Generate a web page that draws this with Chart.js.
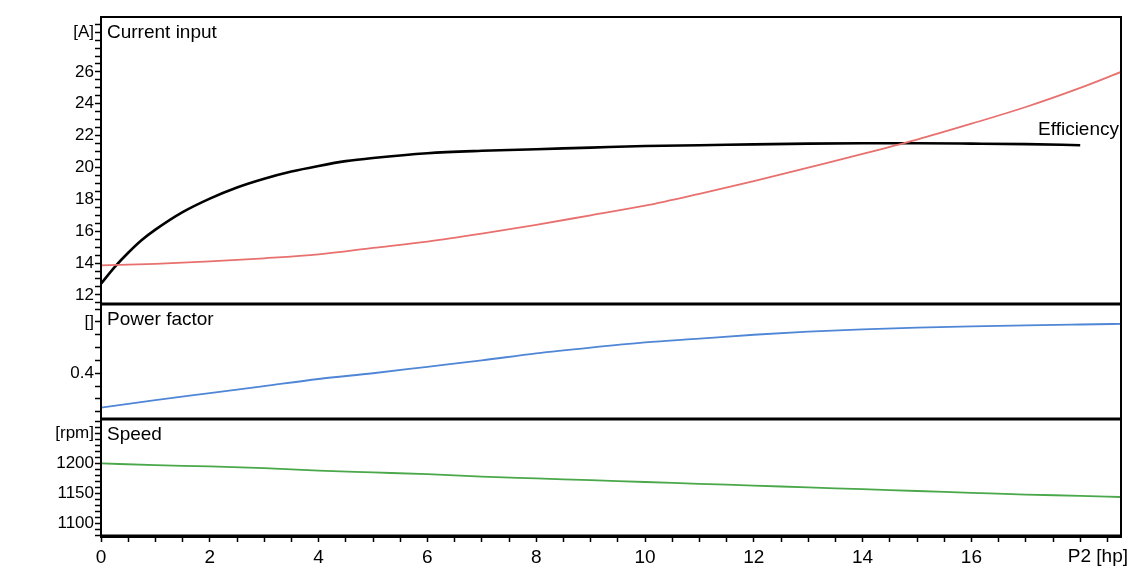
<!DOCTYPE html>
<html>
<head>
<meta charset="utf-8">
<script src="https://cdn.jsdelivr.net/npm/chart.js@4.4.1/dist/chart.umd.min.js"></script>
<style>
  html, body { margin: 0; padding: 0; background: #fff; }
  #wrap { width: 1129px; height: 576px; }
</style>
</head>
<body>
<div id="wrap"><canvas id="mycanvas"></canvas></div>
<script>
// P2 [hp] values where current, power factor and speed were read
var powerHp = [0, 1, 2, 3, 4, 5, 6, 7, 8, 9, 10, 11, 12, 13, 14, 15, 16, 17, 18, 18.75];
var currentA = [13.85, 13.95, 14.1, 14.3, 14.55, 14.95, 15.35, 15.85, 16.4, 17.0, 17.6, 18.35, 19.15, 20.0, 20.85, 21.75, 22.75, 23.8, 25.0, 26.0];
var powerFactor = [0.132, 0.19, 0.245, 0.30, 0.355, 0.40, 0.45, 0.50, 0.555, 0.60, 0.64, 0.67, 0.70, 0.725, 0.742, 0.755, 0.765, 0.773, 0.78, 0.785];
var speedRpm = [1200, 1197, 1195, 1192, 1188, 1185, 1182, 1178, 1175, 1172, 1169, 1166, 1163, 1160, 1157, 1154, 1151, 1148, 1146, 1144];

// efficiency curve (drawn on the current scale)
var effHp = [0, 0.25, 0.5, 0.75, 1, 1.5, 2, 2.5, 3, 3.5, 4, 4.5, 5, 6, 7, 8, 9, 10, 11, 12, 13, 14, 15, 16, 17, 18];
var efficiency = [12.7, 13.75, 14.65, 15.45, 16.1, 17.2, 18.05, 18.75, 19.3, 19.75, 20.1, 20.4, 20.6, 20.9, 21.05, 21.15, 21.25, 21.35, 21.4, 21.45, 21.5, 21.52, 21.52, 21.5, 21.47, 21.4];

var panelTitles = ['Current input', 'Power factor', 'Speed'];
var unitLabels = { yA: [28.5, '[A]'], yP: [0.8, '[]'], yS: [1250, '[rpm]'] };
var xAxisTitle = 'P2 [hp]';

function pts(xs, ys) {
  var out = [];
  for (var i in xs) out.push({ x: xs[i], y: ys[i] });
  return out;
}

function near(v, step) {
  return Math.abs(v - Math.round(v / step) * step) < 1e-6;
}

var FONT = 'Liberation Sans, Arial, sans-serif';

function yAxis(min, max, step, major, weight, id) {
  return {
    type: 'linear',
    position: 'left',
    stack: 'panels',
    stackWeight: weight,
    min: min,
    max: max,
    border: { color: '#000', width: 2 },
    grid: { drawOnChartArea: false, tickLength: 6, tickColor: '#000', tickWidth: 1.5 },
    ticks: {
      stepSize: step,
      maxTicksLimit: 1000,
      autoSkip: false,
      includeBounds: false,
      padding: 1,
      color: '#000',
      font: { family: FONT, size: 17 },
      callback: function(v) {
        var u = unitLabels[id];
        if (Math.abs(v - u[0]) < 1e-6) return u[1];
        if (near(v, major) && v < u[0] - major / 2) return String(Math.round(v * 10) / 10);
        return '';
      }
    },
    afterFit: function(s) { s.width = 101; }
  };
}

var framePlugin = {
  id: 'frames',
  afterDatasetsDraw: function(chart) {
    var ctx = chart.ctx;
    var a = chart.chartArea;
    var ys = [chart.scales.yA, chart.scales.yP, chart.scales.yS];
    ctx.save();
    ctx.strokeStyle = '#000';
    ctx.lineWidth = 2;
    ctx.strokeRect(a.left, a.top, a.right - a.left, a.bottom - a.top);
    ctx.lineWidth = 3;
    [ys[1].top, ys[2].top, a.bottom].forEach(function(y) {
      ctx.beginPath();
      ctx.moveTo(a.left, y);
      ctx.lineTo(a.right, y);
      ctx.stroke();
    });
    ctx.fillStyle = '#000';
    ctx.font = '19px ' + FONT;
    ctx.textBaseline = 'middle';
    ctx.textAlign = 'left';
    for (var i = 0; i < ys.length; i++) {
      ctx.fillText(panelTitles[i], a.left + 6, ys[i].top + 16);
    }
    ctx.textAlign = 'right';
    var ey = chart.scales.yA.getPixelForValue(efficiency[efficiency.length - 1]);
    ctx.fillText('Efficiency', a.right - 2, ey - 15);
    // x axis title sits where the last tick label would be
    var xs = chart.scales.x;
    ctx.fillText(xAxisTitle, a.right + 7, xs.top + 21);
    ctx.restore();
  }
};

var chartdata = {
  datasets: [
    {
      label: 'Current input',
      data: pts(powerHp, currentA),
      yAxisID: 'yA',
      borderColor: '#e8706e',
      borderWidth: 1.8,
      pointRadius: 0,
      cubicInterpolationMode: 'monotone'
    },
    {
      label: 'Efficiency',
      data: pts(effHp, efficiency),
      yAxisID: 'yA',
      borderColor: '#000',
      borderWidth: 2.6,
      pointRadius: 0,
      cubicInterpolationMode: 'monotone'
    },
    {
      label: 'Power factor',
      data: pts(powerHp, powerFactor),
      yAxisID: 'yP',
      borderColor: '#4f86d6',
      borderWidth: 1.8,
      pointRadius: 0,
      cubicInterpolationMode: 'monotone'
    },
    {
      label: 'Speed',
      data: pts(powerHp, speedRpm),
      yAxisID: 'yS',
      borderColor: '#4aa84a',
      borderWidth: 1.8,
      pointRadius: 0,
      cubicInterpolationMode: 'monotone'
    }
  ]
};

var ctx = document.getElementById('mycanvas');

var chart = new Chart(ctx, {
  type: 'line',
  data: chartdata,
  plugins: [framePlugin],
  options: {
    responsive: true,
    maintainAspectRatio: false,
    animation: false,
    layout: { padding: { top: 17, right: 8, left: 0, bottom: 0 } },
    plugins: { legend: { display: false }, tooltip: { enabled: false } },
    scales: {
      x: {
        type: 'linear',
        min: 0,
        max: 18.75,
        border: { color: '#000', width: 3 },
        grid: { drawOnChartArea: false, tickLength: 6, tickColor: '#000', tickWidth: 1.5 },
        ticks: {
          stepSize: 0.5,
          maxTicksLimit: 1000,
          autoSkip: false,
          includeBounds: false,
          maxRotation: 0,
          padding: 4,
          color: '#000',
          font: { family: FONT, size: 19 },
          callback: function(v) {
            if (near(v, 2) && v < 17) return String(v);
            return '';
          }
        },
        afterFit: function(s) { s.height = 40; }
      },
      yS: yAxis(1079, 1274, 10, 50, 117, 'yS'),
      yP: yAxis(0.043, 0.94, 0.1, 0.4, 115, 'yP'),
      yA: yAxis(11.43, 29.45, 0.5, 2, 287, 'yA')
    }
  }
});
</script>
</body>
</html>
